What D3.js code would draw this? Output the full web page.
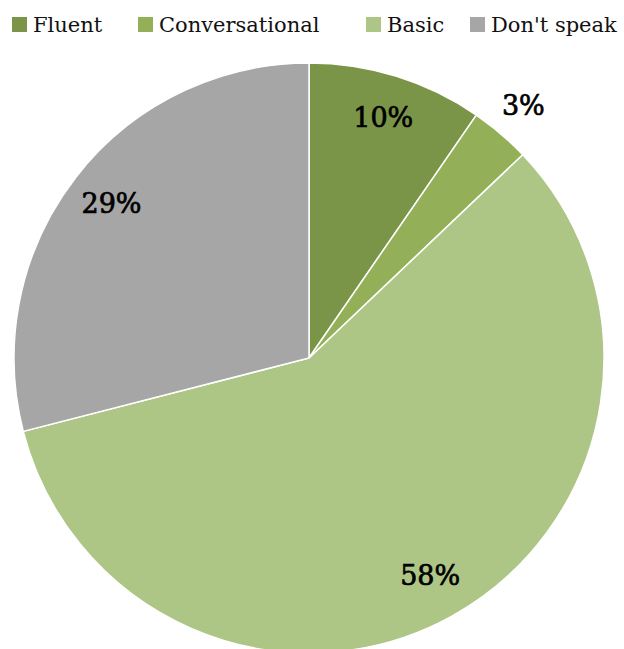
<!DOCTYPE html>
<html>
<head>
<meta charset="UTF-8">
<title>Language</title>
<script src="https://cdn.jsdelivr.net/npm/d3@7"></script>
<style>
body { margin: 0; background: #fff; }
svg { display: block; }
.legend text { font-family: "DejaVu Serif", serif; font-size: 21px; fill: #111; }
.lbl { font-family: "DejaVu Serif", serif; font-size: 27px; fill: #000; stroke: #000; stroke-width: 0.7px; }
</style>
</head>
<body>
<script>
// slice data (percent)
var categories = ["Fluent", "Conversational", "Basic", "Don't speak"];
var values = [9.6, 3.3, 58.1, 29.0];
var colors = ["#7b9548", "#93b059", "#adc686", "#a6a6a6"];
// legend item x positions
var legendX = [12, 138, 366, 470];

var width = 624, height = 649;
var cx = 309, cy = 358, radius = 295;

var svg = d3.select("body").append("svg")
    .attr("width", width)
    .attr("height", height);

var pie = d3.pie().sort(null).value(function(d) { return d; });
var arcs = pie(values);

var arc = d3.arc().innerRadius(0).outerRadius(radius);
var labelArc = d3.arc().innerRadius(250).outerRadius(250);
var outsideArc = d3.arc().innerRadius(330).outerRadius(330);

var g = svg.append("g")
    .attr("transform", "translate(" + cx + "," + cy + ")");

g.selectAll("path")
    .data(arcs)
  .enter().append("path")
    .attr("d", arc)
    .attr("fill", function(d, i) { return colors[i]; })
    .attr("stroke", "#fff")
    .attr("stroke-width", 1.5);

// labels: small slices go outside
g.selectAll(".lbl")
    .data(arcs)
  .enter().append("text")
    .attr("class", "lbl")
    .attr("transform", function(d) {
      var a = (d.endAngle - d.startAngle) < 0.3 ? outsideArc : labelArc;
      return "translate(" + a.centroid(d) + ")";
    })
    .attr("text-anchor", "middle")
    .attr("dy", "0.3em")
    .text(function(d) { return Math.round(d.value) + "%"; });

// legend
var legend = svg.append("g").attr("class", "legend")
  .selectAll("g")
    .data(categories)
  .enter().append("g")
    .attr("transform", function(d, i) { return "translate(" + legendX[i] + ",0)"; });

legend.append("rect")
    .attr("x", 0).attr("y", 17)
    .attr("width", 15).attr("height", 15)
    .attr("fill", function(d, i) { return colors[i]; });

legend.append("text")
    .attr("x", 21).attr("y", 32)
    .text(function(d) { return d; });
</script>
</body>
</html>
